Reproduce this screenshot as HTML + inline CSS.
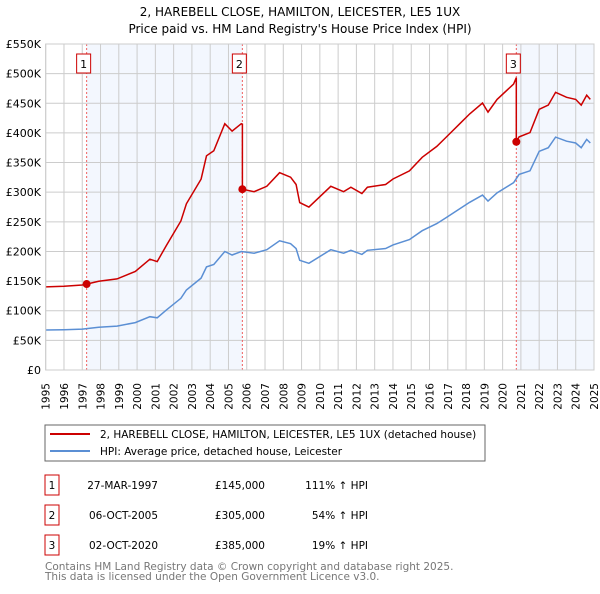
<!DOCTYPE html>
<html><head><meta charset="utf-8"><style>
body{margin:0;background:#fff;font-family:"DejaVu Sans","Liberation Sans",sans-serif;}
svg text{font-family:"DejaVu Sans","Liberation Sans",sans-serif;}
</style></head><body>
<svg id="c" width="600" height="590" xmlns="http://www.w3.org/2000/svg">
<text x="300" y="16" text-anchor="middle" font-size="12" fill="#000">2, HAREBELL CLOSE, HAMILTON, LEICESTER, LE5 1UX</text>
<text x="300" y="33" text-anchor="middle" font-size="12" fill="#000">Price paid vs. HM Land Registry's House Price Index (HPI)</text>
<g id="plot"></g>
<g>
<rect x="45" y="425" width="440" height="36" fill="#fff" stroke="#666"/>
<line x1="50" y1="434" x2="90" y2="434" stroke="#cc0000" stroke-width="2"/>
<text x="100" y="438" font-size="10.5">2, HAREBELL CLOSE, HAMILTON, LEICESTER, LE5 1UX (detached house)</text>
<line x1="50" y1="451" x2="90" y2="451" stroke="#5b8fd4" stroke-width="2"/>
<text x="100" y="455" font-size="10.5">HPI: Average price, detached house, Leicester</text>
</g>
<g id="tbl"></g>
<text x="45" y="570" font-size="10.5" fill="#777">Contains HM Land Registry data © Crown copyright and database right 2025.</text>
<text x="45" y="580" font-size="10.5" fill="#777">This data is licensed under the Open Government Licence v3.0.</text>
</svg>
<script>
const hpiYears=[1995,1996,1997,1997.9,1998.9,1999.9,2000.7,2001.1,2001.6,2002.4,2002.7,2003.5,2003.8,2004.2,2004.8,2005.2,2005.7,2006.4,2007.1,2007.8,2008.4,2008.7,2008.9,2009.4,2010.6,2011.3,2011.7,2012.3,2012.6,2013.6,2014.0,2014.9,2015.6,2016.4,2016.9,2017.6,2018.2,2018.9,2019.2,2019.7,2020.6,2020.9,2021.5,2022.0,2022.5,2022.9,2023.5,2024.0,2024.3,2024.6,2024.8];
const hpiValues=[67.5,68,69,72,74,80,90,88,101,121,135,155,174,178,200,194,200,197,203,218,213,205,185,180,203,197,202,195,202,205,211,220,235,247,257,271,283,295,285,299,316,330,336,369,375,393,386,383,375,389,383];
const saleYears=[1997.24,2005.76,2020.75];
const salePrices=[145,305,385];
const saleLabels=["1","2","3"];
const saleDates=["27-MAR-1997","06-OCT-2005","02-OCT-2020"];
const salePriceText=["£145,000","£305,000","£385,000"];
const saleHpiText=["111% ↑ HPI","54% ↑ HPI","19% ↑ HPI"];
const yTicks=[0,50,100,150,200,250,300,350,400,450,500,550];
const yTickLabels=["£0","£50K","£100K","£150K","£200K","£250K","£300K","£350K","£400K","£450K","£500K","£550K"];
const xTicks=[];for(let y=1995;y<=2025;y++)xTicks.push(y);

const NS="http://www.w3.org/2000/svg";
const X0=45.7,X1=594,Y0=370,Y1=44;
const xs=t=>X0+(t-1995)*(X1-X0)/30;
const ys=v=>Y0-(v-0)*(Y0-Y1)/550;
function mk(tag,attrs,parent){const e=document.createElementNS(NS,tag);for(const k in attrs)e.setAttribute(k,attrs[k]);parent.appendChild(e);return e;}
const P=document.getElementById('plot');
function hpiAt(t){for(let i=0;i<hpiYears.length-1;i++){if(t>=hpiYears[i]&&t<=hpiYears[i+1]){const f=(t-hpiYears[i])/(hpiYears[i+1]-hpiYears[i]);return hpiValues[i]+f*(hpiValues[i+1]-hpiValues[i]);}}return hpiValues[hpiValues.length-1];}
let r=mk('rect',{x:xs(saleYears[0]),y:Y1,width:xs(saleYears[1])-xs(saleYears[0]),height:Y0-Y1,fill:'#eef3fd',opacity:0.7},P);


r=mk('rect',{x:xs(saleYears[2]),y:Y1,width:X1-xs(saleYears[2]),height:Y0-Y1,fill:'#eef3fd',opacity:0.7},P);


xTicks.forEach(t=>{const l=mk('line',{x1:xs(t),x2:xs(t),y1:Y1,y2:Y0,stroke:'#ccc','stroke-width':1},P);


const x=xs(t)+4;
const tx=mk('text',{x:x,y:383,'text-anchor':'end','font-size':10.5,transform:'rotate(-90 '+x+' 383)'},P);tx.textContent=t;

});
yTicks.forEach((v,i)=>{const l=mk('line',{x1:X0,x2:X1,y1:ys(v),y2:ys(v),stroke:'#ccc','stroke-width':1},P);


const tx=mk('text',{x:41,y:ys(v)+4,'text-anchor':'end','font-size':11},P);tx.textContent=yTickLabels[i];

});
saleYears.forEach((s,i)=>{const l=mk('line',{x1:xs(s),x2:xs(s),y1:Y1,y2:Y0,stroke:'#f06060','stroke-width':1,'stroke-dasharray':'2,2'},P);

});
let d=hpiYears.map((t,i)=>(i?'L':'M')+xs(t).toFixed(1)+','+ys(hpiValues[i]).toFixed(1)).join('');
const hl=mk('path',{d:d,fill:'none',stroke:'#5b8fd4','stroke-width':1.5},P);


const factors=saleYears.map((s,i)=>salePrices[i]/hpiAt(s));
let pts=[];
hpiYears.forEach((t,i)=>{let k=0;for(let j=0;j<saleYears.length;j++)if(t>=saleYears[j])k=j;pts.push([t,hpiValues[i]*factors[k]]);});
saleYears.forEach((s,i)=>{if(i>0)pts.push([s-0.0001,hpiAt(s)*factors[i-1]]);pts.push([s,salePrices[i]]);});
pts.sort((a,b)=>a[0]-b[0]);
d=pts.map((p,i)=>(i?'L':'M')+xs(p[0]).toFixed(1)+','+ys(p[1]).toFixed(1)).join('');
const pl=mk('path',{d:d,fill:'none',stroke:'#cc0000','stroke-width':1.5},P);


const fr=mk('rect',{x:X0,y:Y1,width:X1-X0,height:Y0-Y1,fill:'none',stroke:'#ccc'},P);


saleYears.forEach((s,i)=>{const c=mk('circle',{cx:xs(s),cy:ys(salePrices[i]),r:4,fill:'#cc0000'},P);


const b=mk('rect',{x:xs(s)-10,y:54,width:14,height:19,fill:'#fff',stroke:'#cc0000'},P);


const t=mk('text',{x:xs(s)-3,y:68,'text-anchor':'middle','font-size':11},P);t.textContent=saleLabels[i];

});
const T=document.getElementById('tbl');
saleLabels.forEach((lab,i)=>{const y=475+i*30;
const b=mk('rect',{x:45,y:y,width:14,height:20,fill:'#fff',stroke:'#cc0000'},T);


let t=mk('text',{x:52,y:y+14,'text-anchor':'middle','font-size':10.5},T);t.textContent=lab;


t=mk('text',{x:158,y:y+14,'text-anchor':'end','font-size':10.5},T);t.textContent=saleDates[i];


t=mk('text',{x:265,y:y+14,'text-anchor':'end','font-size':10.5},T);t.textContent=salePriceText[i];


t=mk('text',{x:368,y:y+14,'text-anchor':'end','font-size':10.5},T);t.textContent=saleHpiText[i];

});
</script>
</body></html>
